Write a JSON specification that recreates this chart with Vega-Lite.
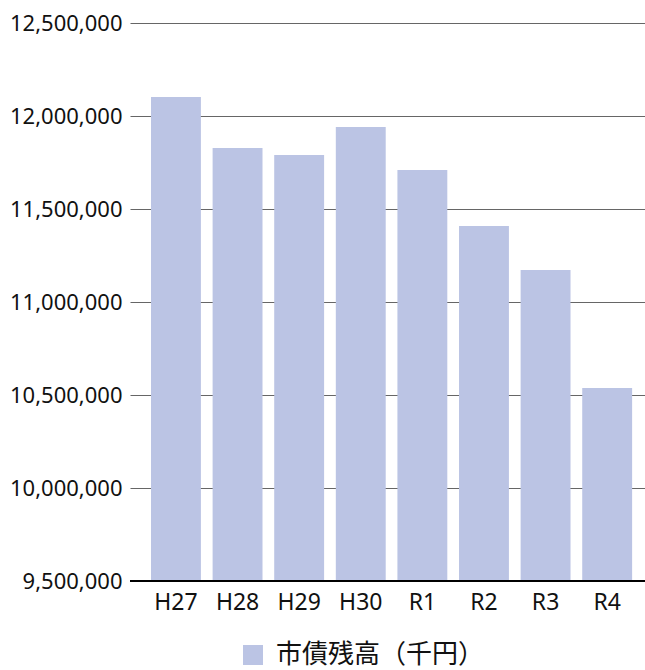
{
  "$schema": "https://vega.github.io/schema/vega-lite/v6.json",
  "width": 515,
  "height": 558,
  "autosize": "none",
  "padding": {"left": 130, "top": 23, "right": 0, "bottom": 89},
  "background": "white",
  "config": {
    "font": "Noto Sans CJK JP",
    "view": {"stroke": null}
  },
  "data": {
    "values": [
      {"year": "H27", "value": 12102000, "series": "市債残高（千円）"},
      {"year": "H28", "value": 11828000, "series": "市債残高（千円）"},
      {"year": "H29", "value": 11790000, "series": "市債残高（千円）"},
      {"year": "H30", "value": 11941000, "series": "市債残高（千円）"},
      {"year": "R1", "value": 11710000, "series": "市債残高（千円）"},
      {"year": "R2", "value": 11409000, "series": "市債残高（千円）"},
      {"year": "R3", "value": 11172000, "series": "市債残高（千円）"},
      {"year": "R4", "value": 10538000, "series": "市債残高（千円）"}
    ]
  },
  "layer": [
    {
      "mark": {"type": "bar", "clip": true},
      "encoding": {
        "x": {
          "field": "year",
          "type": "nominal",
          "sort": null,
          "scale": {"paddingInner": 0.19, "paddingOuter": 0.275, "align": 0.62},
          "axis": {
            "title": null,
            "labelAngle": 0,
            "labelFontSize": 23,
            "labelColor": "#111",
            "labelFont": "Noto Sans",
            "ticks": false,
            "domain": false,
            "labelPadding": 10
          }
        },
        "y": {
          "field": "value",
          "type": "quantitative",
          "scale": {"domain": [9500000, 12500000], "nice": false, "zero": false},
          "axis": {
            "title": null,
            "values": [9500000, 10000000, 10500000, 11000000, 11500000, 12000000, 12500000],
            "format": ",d",
            "labelFontSize": 22,
            "labelFont": "Noto Sans",
            "labelColor": "#111",
            "labelPadding": 8,
            "ticks": false,
            "domain": false,
            "grid": true,
            "gridColor": "#666",
            "gridWidth": 1.2
          }
        },
        "color": {
          "field": "series",
          "type": "nominal",
          "scale": {"range": ["#BBC4E4"]},
          "legend": {
            "title": null,
            "orient": "none",
            "legendX": 110,
            "legendY": 619,
            "direction": "horizontal",
            "symbolType": "square",
            "symbolSize": 400,
            "symbolStrokeWidth": 0,
            "labelFontSize": 26,
            "labelLimit": 400,
            "labelOffset": 10,
            "labelFont": "Noto Sans CJK JP",
            "labelColor": "#111",
            "padding": 0
          }
        }
      }
    },
    {
      "mark": {"type": "rule", "color": "#000", "strokeWidth": 1.5},
      "encoding": {
        "y": {"datum": 9500000, "type": "quantitative"}
      }
    }
  ]
}
